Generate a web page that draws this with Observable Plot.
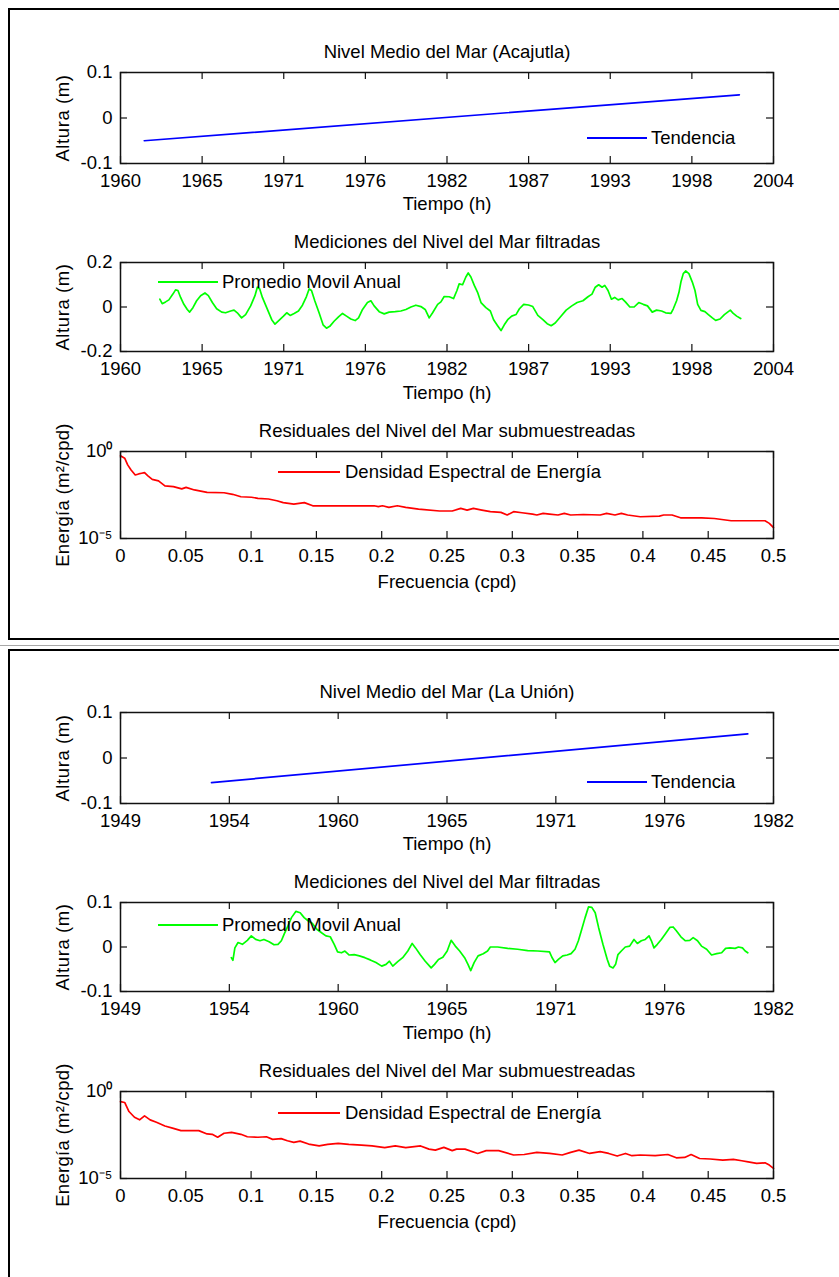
<!DOCTYPE html>
<html>
<head>
<meta charset="utf-8">
<script src="https://cdn.jsdelivr.net/npm/d3@7"></script>
<script src="https://cdn.jsdelivr.net/npm/@observablehq/plot@0.6"></script>
<style>
  body { margin: 0; background: #fff; }
  #page { position: relative; width: 839px; height: 1277px; overflow: hidden; background: #fff;
          font-family: "Liberation Sans", Arial, sans-serif; }
  .box { position: absolute; border: 2px solid #000; box-sizing: border-box; }
  .sep { position: absolute; left: 0; width: 839px; height: 1px; background: #a8a8a8; }
  .panel { position: absolute; left: 0; }
  .leg-line { position: absolute; height: 2px; }
  .leg-text { position: absolute; font-size: 18.5px; transform: translateY(-50%); white-space: nowrap; color: #000; }
</style>
</head>
<body>
<div id="page"></div>
<script>
// ---------------- DATA ----------------
// Acajutla
const acajTrendYears = [1961.6, 2001.7];
const acajTrend = [-0.050, 0.051];

const acajYears = [
  1962.65,1962.81,1963.04,1963.26,1963.53,1963.71,1963.87,1964.05,1964.27,1964.5,
  1964.66,1964.88,1965.13,1965.4,1965.69,1965.92,1966.19,1966.48,1966.82,1967.08,
  1967.42,1967.65,1967.87,1968.16,1968.43,1968.77,1969.06,1969.22,1969.38,1969.56,
  1969.9,1970.19,1970.41,1970.68,1970.98,1971.2,1971.43,1971.7,1971.99,1972.26,
  1972.53,1972.71,1972.87,1973.09,1973.38,1973.65,1973.88,1974.1,1974.39,1974.69,
  1974.96,1975.23,1975.52,1975.81,1976.04,1976.31,1976.64,1976.87,1977.09,1977.43,
  1977.77,1978.1,1978.51,1978.89,1979.23,1979.57,1979.9,1980.24,1980.53,1980.8,
  1981.03,1981.37,1981.59,1981.81,1982.15,1982.44,1982.67,1982.82,1983.05,1983.27,
  1983.43,1983.61,1983.84,1984.06,1984.29,1984.62,1984.92,1985.14,1985.41,1985.64,
  1985.86,1986.09,1986.36,1986.65,1986.88,1987.17,1987.49,1987.78,1988.12,1988.46,
  1988.75,1989.02,1989.29,1989.65,1990.03,1990.41,1990.77,1991.16,1991.5,1991.77,
  1991.99,1992.22,1992.45,1992.63,1992.85,1993.08,1993.3,1993.53,1993.8,1994.02,
  1994.32,1994.61,1994.92,1995.22,1995.51,1995.83,1996.12,1996.46,1996.73,1997.09,
  1997.25,1997.47,1997.63,1997.77,1997.92,1998.08,1998.3,1998.53,1998.71,1998.89,
  1999.11,1999.38,1999.61,1999.88,2000.1,2000.4,2000.69,2000.91,2001.09,2001.29,
  2001.52,2001.79
];
const acajFilteredVals = [
  0.035,0.015,0.023,0.032,0.058,0.077,0.074,0.043,0.012,-0.011,
  -0.023,-0.003,0.028,0.051,0.063,0.051,0.020,-0.008,-0.023,-0.026,
  -0.018,-0.014,-0.026,-0.049,-0.034,0.005,0.051,0.089,0.081,0.043,
  -0.011,-0.057,-0.077,-0.060,-0.041,-0.026,-0.038,-0.029,-0.018,0.008,
  0.047,0.081,0.074,0.028,-0.026,-0.080,-0.095,-0.087,-0.064,-0.044,
  -0.029,-0.041,-0.054,-0.061,-0.049,-0.011,0.020,0.028,0.005,-0.021,
  -0.031,-0.023,-0.021,-0.018,-0.011,0.000,0.008,0.002,-0.011,-0.049,
  -0.026,0.012,0.023,0.047,0.046,0.038,0.074,0.104,0.100,0.135,
  0.153,0.135,0.097,0.066,0.020,-0.003,-0.018,-0.057,-0.084,-0.106,
  -0.080,-0.057,-0.041,-0.034,-0.008,0.012,0.009,0.002,-0.038,-0.057,
  -0.075,-0.084,-0.072,-0.044,-0.014,0.005,0.020,0.028,0.046,0.058,
  0.089,0.100,0.089,0.097,0.074,0.035,0.043,0.032,0.038,0.023,
  0.000,0.000,0.020,0.012,0.005,-0.023,-0.014,-0.018,-0.026,-0.029,
  -0.008,0.028,0.066,0.115,0.150,0.162,0.150,0.112,0.074,0.012,
  -0.015,-0.021,-0.034,-0.049,-0.060,-0.054,-0.034,-0.023,-0.014,-0.029,
  -0.041,-0.052
];

const acajFreq = [
  0,0.0032,0.0055,0.0081,0.0113,0.0139,0.0162,0.0184,0.021,0.0243,
  0.0291,0.034,0.0405,0.0469,0.0502,0.0566,0.0663,0.0793,0.0858,0.0922,
  0.1003,0.1052,0.1133,0.1197,0.1246,0.1327,0.1408,0.1472,0.1602,0.1796,
  0.1942,0.1974,0.2006,0.2055,0.212,0.2184,0.2282,0.2443,0.254,0.2605,
  0.2654,0.2702,0.2767,0.2832,0.2913,0.2961,0.301,0.3074,0.3155,0.3188,
  0.3236,0.3285,0.335,0.3398,0.3447,0.3544,0.3673,0.3722,0.3786,0.3835,
  0.3883,0.398,0.4126,0.4159,0.4223,0.4288,0.445,0.4547,0.4676,0.4935,
  0.4968,0.5
];
// energy read as powers of ten (exponent)
const acajLogEnergy = [
  -0.25,-0.385,-0.77,-1.06,-1.35,-1.29,-1.25,-1.21,-1.40,-1.60,
  -1.69,-1.98,-2.02,-2.15,-2.06,-2.21,-2.35,-2.37,-2.46,-2.60,
  -2.63,-2.69,-2.73,-2.83,-2.94,-3.02,-2.94,-3.12,-3.12,-3.12,
  -3.12,-3.17,-3.12,-3.21,-3.12,-3.21,-3.31,-3.42,-3.42,-3.27,
  -3.37,-3.27,-3.37,-3.46,-3.50,-3.65,-3.46,-3.52,-3.60,-3.65,
  -3.56,-3.60,-3.65,-3.56,-3.65,-3.62,-3.65,-3.56,-3.65,-3.56,
  -3.65,-3.75,-3.71,-3.65,-3.65,-3.81,-3.81,-3.85,-3.98,-3.98,
  -4.13,-4.37
];

// La Unión
const unionTrendYears = [1953.6, 1980.7];
const unionTrend = [-0.054, 0.053];

const unionYears = [
  1954.6,1954.68,1954.78,1954.94,1955.16,1955.41,1955.61,1955.83,1956.05,1956.25,
  1956.51,1956.76,1956.96,1957.13,1957.27,1957.44,1957.64,1957.86,1958.08,1958.28,
  1958.48,1958.7,1958.92,1959.16,1959.38,1959.6,1959.8,1959.97,1960.17,1960.34,
  1960.56,1960.81,1961.07,1961.35,1961.62,1961.91,1962.2,1962.42,1962.59,1962.76,
  1963.01,1963.26,1963.52,1963.74,1963.91,1964.14,1964.4,1964.7,1964.87,1965.07,
  1965.29,1965.51,1965.71,1965.92,1966.14,1966.39,1966.56,1966.7,1966.87,1967.07,
  1967.33,1967.55,1967.69,1968.06,1968.57,1969.07,1969.58,1970.09,1970.68,1970.8,
  1970.96,1971.13,1971.35,1971.57,1971.77,1971.97,1972.14,1972.31,1972.48,1972.65,
  1972.82,1972.99,1973.16,1973.38,1973.6,1973.72,1973.89,1974.02,1974.14,1974.31,
  1974.51,1974.73,1974.95,1975.12,1975.32,1975.52,1975.71,1975.83,1975.96,1976.13,
  1976.33,1976.54,1976.76,1976.93,1977.1,1977.32,1977.55,1977.77,1977.94,1978.16,
  1978.36,1978.62,1978.87,1979.13,1979.38,1979.58,1979.8,1980.06,1980.23,1980.43,
  1980.57,1980.7
];
const unionFilteredVals = [
  -0.024,-0.030,-0.002,0.010,0.006,0.015,0.025,0.017,0.014,0.017,
  0.012,0.005,0.006,0.014,0.029,0.045,0.066,0.080,0.077,0.066,
  0.059,0.053,0.040,0.032,0.025,0.023,0.006,-0.011,-0.013,-0.009,
  -0.018,-0.017,-0.020,-0.024,-0.029,-0.035,-0.043,-0.039,-0.032,-0.043,
  -0.033,-0.024,-0.009,0.008,-0.002,-0.017,-0.032,-0.047,-0.039,-0.028,
  -0.023,-0.009,0.015,0.002,-0.009,-0.024,-0.039,-0.053,-0.035,-0.020,
  -0.015,-0.009,0.000,0.000,-0.003,-0.005,-0.008,-0.009,-0.011,-0.023,
  -0.035,-0.028,-0.020,-0.018,-0.015,-0.005,0.014,0.040,0.066,0.090,
  0.089,0.077,0.044,0.006,-0.028,-0.043,-0.047,-0.039,-0.017,-0.009,
  0.000,0.002,0.017,0.008,0.014,0.017,0.025,0.014,-0.002,0.006,
  0.017,0.030,0.044,0.045,0.036,0.023,0.014,0.015,0.021,0.014,
  0.002,-0.005,-0.018,-0.015,-0.013,-0.003,-0.002,-0.003,0.000,-0.002,
  -0.009,-0.013
];

const unionFreq = [
  0,0.0032,0.0065,0.0107,0.0146,0.0184,0.0227,0.0275,0.034,0.0405,
  0.0463,0.0599,0.0663,0.0702,0.0744,0.0793,0.0851,0.0922,0.0971,0.1052,
  0.1117,0.1165,0.123,0.1278,0.1327,0.1375,0.144,0.1521,0.1586,0.1667,
  0.1748,0.1845,0.1926,0.2023,0.2104,0.2184,0.2298,0.2362,0.2411,0.2476,
  0.254,0.2573,0.2638,0.2735,0.28,0.2896,0.301,0.3091,0.3188,0.3285,
  0.3382,0.3447,0.3511,0.3592,0.3673,0.3738,0.3803,0.3867,0.3916,0.398,
  0.4094,0.4191,0.4256,0.432,0.4369,0.4434,0.4515,0.4612,0.4693,0.4757,
  0.4806,0.4871,0.4935,0.4968,0.5
];
const unionLogEnergy = [
  -0.58,-0.63,-1.15,-1.48,-1.63,-1.40,-1.63,-1.77,-1.98,-2.12,
  -2.25,-2.25,-2.44,-2.46,-2.63,-2.40,-2.35,-2.46,-2.60,-2.63,
  -2.60,-2.75,-2.71,-2.83,-2.92,-2.85,-3.02,-3.12,-3.04,-2.98,
  -3.04,-3.08,-3.13,-3.23,-3.13,-3.23,-3.13,-3.31,-3.37,-3.21,
  -3.40,-3.31,-3.31,-3.56,-3.40,-3.40,-3.65,-3.62,-3.50,-3.56,
  -3.65,-3.50,-3.37,-3.56,-3.46,-3.56,-3.71,-3.56,-3.69,-3.65,
  -3.69,-3.62,-3.81,-3.79,-3.62,-3.85,-3.88,-3.94,-3.90,-3.98,
  -4.04,-4.13,-4.10,-4.23,-4.42
];

// Tick positions and labels
const acajTimeTicks = [1960, 1965.5, 1971, 1976.5, 1982, 1987.5, 1993, 1998.5, 2004];
const acajTimeLabels = ["1960","1965","1971","1976","1982","1987","1993","1998","2004"];
const unionTimeTicks = [1949, 1954.5, 1960, 1965.5, 1971, 1976.5, 1982];
const unionTimeLabels = ["1949","1954","1960","1965","1971","1976","1982"];
const freqTicks = [0,0.05,0.1,0.15,0.2,0.25,0.3,0.35,0.4,0.45,0.5];
const freqLabels = ["0","0.05","0.1","0.15","0.2","0.25","0.3","0.35","0.4","0.45","0.5"];
const ticks01 = [-0.1, 0, 0.1];
const labels01 = ["-0.1","0","0.1"];
const ticks02 = [-0.2, 0, 0.2];
const labels02 = ["-0.2","0","0.2"];
const energyTicks = [1e-5, 1];
const energyLabels = ["10\u207B\u2075", "10\u2070"];

// ---------------- DRAWING ----------------
const FONT = '"Liberation Sans", Arial, Helvetica, sans-serif';
const W = 839, ML = 120, MR = 66, MT = 45, MB = 62;
const AXC = "#111";
const page = document.getElementById("page");

function addBox(left, top, width, height) {
  const d = document.createElement("div");
  d.className = "box";
  Object.assign(d.style, {left: left + "px", top: top + "px", width: width + "px", height: height + "px"});
  page.appendChild(d);
}

function panel(o) {
  const fw = W - ML - MR;
  const xMap = new Map(o.xTicks.map((t, i) => [t, o.xLabels[i]]));
  const yMap = new Map(o.yTicks.map((t, i) => [t, o.yLabels[i]]));
  const chart = Plot.plot({
    width: W, height: MT + o.fh + MB,
    marginLeft: ML, marginRight: MR, marginTop: MT, marginBottom: MB,
    style: {fontFamily: FONT, fontSize: "18.5px", color: "#000", background: "transparent", overflow: "visible"},
    x: {type: "linear", domain: o.xDomain},
    y: {type: o.yType || "linear", domain: o.yDomain},
    marks: [
      Plot.line(o.data, {x: o.x, y: o.y, stroke: o.color, strokeWidth: 1.7}),
      Plot.tickX(o.xTicks, {x: d => d, insetTop: o.fh - 7, stroke: AXC, strokeWidth: 1.2}),
      Plot.tickX(o.xTicks, {x: d => d, insetBottom: o.fh - 7, stroke: AXC, strokeWidth: 1.2}),
      Plot.tickY(o.yTicks, {y: d => d, insetRight: fw - 7, stroke: AXC, strokeWidth: 1.2}),
      Plot.tickY(o.yTicks, {y: d => d, insetLeft: fw - 7, stroke: AXC, strokeWidth: 1.2}),
      Plot.frame({stroke: AXC, strokeWidth: 1.5}),
      Plot.axisX({ticks: o.xTicks, tickFormat: d => xMap.get(d), tickSize: 0, tickPadding: 10, label: null}),
      Plot.axisY({ticks: o.yTicks, tickFormat: d => yMap.get(d), tickSize: 0, tickPadding: 8, label: null}),
      Plot.text([o.title], {text: d => d, frameAnchor: "top", dy: -20, lineAnchor: "middle", textAnchor: "middle"}),
      Plot.text([o.xTitle], {text: d => d, frameAnchor: "bottom", dy: o.xTitleDy, lineAnchor: "middle", textAnchor: "middle"}),
      Plot.text([o.yTitle], {text: d => d, frameAnchor: "left", dx: -57, rotate: -90,
        lineAnchor: "middle", textAnchor: "middle", fontSize: o.yTitleSize || 18.5})
    ]
  });
  // the reference's rotated y titles are set with slightly wider letter spacing
  d3.select(chart).selectAll("text")
    .filter(function() { return this.textContent === o.yTitle; })
    .style("letter-spacing", o.yTitleSpacing || "0.6px");
  chart.classList.add("panel");
  chart.style.top = (o.top - MT) + "px";
  page.appendChild(chart);

  // legend (no box, as in the reference)
  const ln = document.createElement("div");
  ln.className = "leg-line";
  Object.assign(ln.style, {left: o.legend.x1 + "px", width: (o.legend.x2 - o.legend.x1) + "px",
    top: (o.legend.y - 1) + "px", background: o.color});
  page.appendChild(ln);
  const tx = document.createElement("div");
  tx.className = "leg-text";
  tx.textContent = o.legend.label;
  Object.assign(tx.style, {left: o.legend.tx + "px", top: o.legend.y + "px"});
  page.appendChild(tx);
}

// frames of the two figures
addBox(8, 8, 840, 632);
const sep = document.createElement("div");
sep.className = "sep"; sep.style.top = "645px"; page.appendChild(sep);
addBox(8, 649, 840, 700);

const acajTrendData = acajTrendYears.map((t, i) => ({t, h: acajTrend[i]}));
const acajFiltered = acajYears.map((t, i) => ({t, h: acajFilteredVals[i]}));
const acajSpectrum = acajFreq.map((f, i) => ({f, e: Math.pow(10, acajLogEnergy[i])}));
const unionTrendData = unionTrendYears.map((t, i) => ({t, h: unionTrend[i]}));
const unionFiltered = unionYears.map((t, i) => ({t, h: unionFilteredVals[i]}));
const unionSpectrum = unionFreq.map((f, i) => ({f, e: Math.pow(10, unionLogEnergy[i])}));

const figs = [
  {off: 0, name: "Acajutla", trend: acajTrendData, filt: acajFiltered, spec: acajSpectrum,
   xDomain: [1960, 2004], xTicks: acajTimeTicks, xLabels: acajTimeLabels,
   filtDomain: [-0.2, 0.2], filtTicks: ticks02, filtLabels: labels02, legY: [138, 282, 472]},
  {off: 640, name: "La Unión", trend: unionTrendData, filt: unionFiltered, spec: unionSpectrum,
   xDomain: [1949, 1982], xTicks: unionTimeTicks, xLabels: unionTimeLabels,
   filtDomain: [-0.1, 0.1], filtTicks: ticks01, filtLabels: labels01, legY: [782, 925, 1113]}
];

for (const F of figs) {
  panel({top: 72 + F.off, fh: 91, data: F.trend, x: "t", y: "h", color: "#0000ff",
    xDomain: F.xDomain, xTicks: F.xTicks, xLabels: F.xLabels,
    yDomain: [-0.1, 0.1], yTicks: ticks01, yLabels: labels01,
    title: "Nivel Medio del Mar (" + F.name + ")", xTitle: "Tiempo (h)", xTitleDy: 41, yTitle: "Altura (m)",
    legend: {x1: 587, x2: 647, tx: 651, y: F.legY[0], label: "Tendencia"}});
  panel({top: 262 + F.off, fh: 89, data: F.filt, x: "t", y: "h", color: "#00ff00",
    xDomain: F.xDomain, xTicks: F.xTicks, xLabels: F.xLabels,
    yDomain: F.filtDomain, yTicks: F.filtTicks, yLabels: F.filtLabels,
    title: "Mediciones del Nivel del Mar filtradas", xTitle: "Tiempo (h)", xTitleDy: 42, yTitle: "Altura (m)",
    legend: {x1: 158, x2: 218, tx: 222, y: F.legY[1], label: "Promedio Movil Anual"}});
  panel({top: 451 + F.off, fh: 87, data: F.spec, x: "f", y: "e", color: "#ff0000",
    xDomain: [0, 0.5], xTicks: freqTicks, xLabels: freqLabels,
    yType: "log", yDomain: [1e-5, 1], yTicks: energyTicks, yLabels: energyLabels,
    title: "Residuales del Nivel del Mar submuestreadas", xTitle: "Frecuencia (cpd)", xTitleDy: 44,
    yTitle: "Energía (m\u00B2/cpd)", yTitleSize: 18.5, yTitleSpacing: "0.3px",
    legend: {x1: 278, x2: 340, tx: 345, y: F.legY[2], label: "Densidad Espectral de Energía"}});
}
</script>
</body>
</html>
